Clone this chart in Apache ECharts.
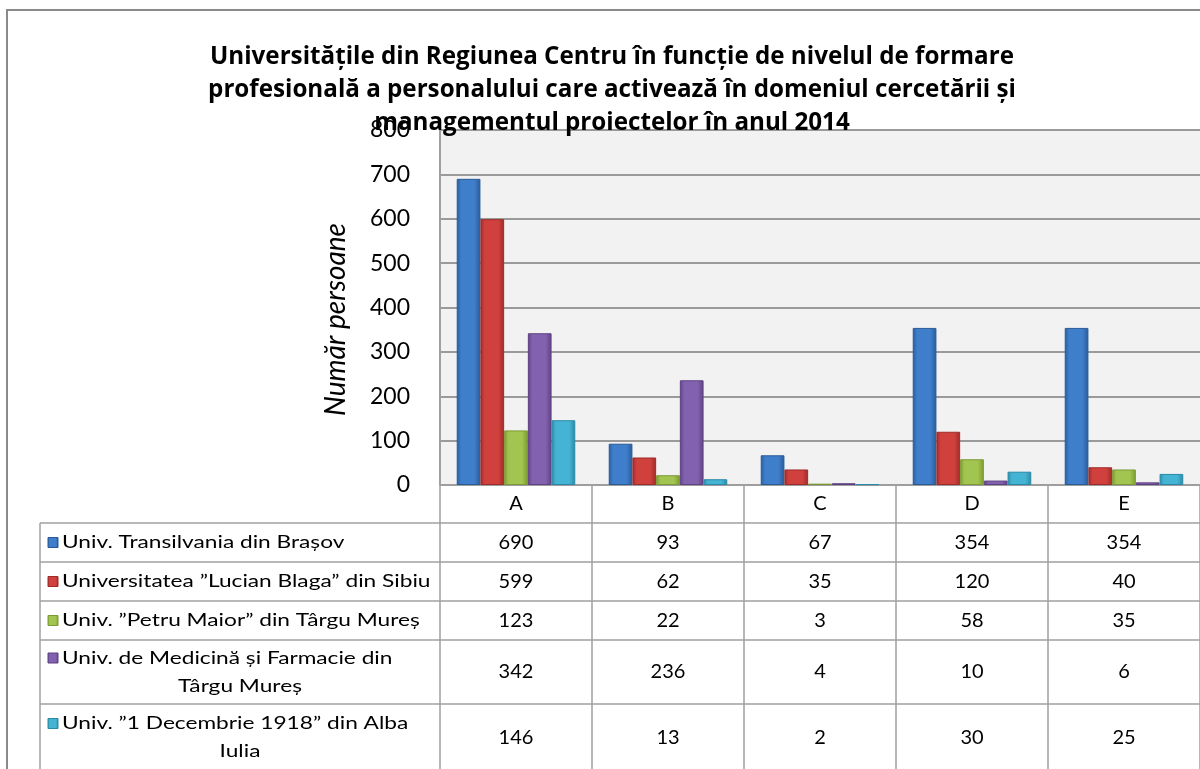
<!DOCTYPE html>
<html>
<head>
<meta charset="utf-8">
<script src="https://cdn.jsdelivr.net/npm/echarts@6/dist/echarts.min.js"></script>
<style>
html,body{margin:0;padding:0;background:#fff;}
#chart{width:1200px;height:769px;}
</style>
</head>
<body>
<div id="chart"></div>
<script>
// ---------- data ----------
const titleText = 'Universitățile din Regiunea Centru în funcție de nivelul de formare\nprofesională a personalului care activează în domeniul cercetării și\nmanagementul proiectelor în anul 2014';
const yAxisName = 'Număr persoane';
const categories = ['A', 'B', 'C', 'D', 'E'];
const seriesNames = [
  'Univ. Transilvania din Brașov',
  'Universitatea ”Lucian Blaga” din Sibiu',
  'Univ. ”Petru Maior” din Târgu Mureș',
  'Univ. de Medicină și Farmacie din\nTârgu Mureș',
  'Univ. ”1 Decembrie 1918” din Alba\nIulia'
];
const brasov = [690, 93, 67, 354, 354];
const sibiu = [599, 62, 35, 120, 40];
const petruMaior = [123, 22, 3, 58, 35];
const umfTgMures = [342, 236, 4, 10, 6];
const albaIulia = [146, 13, 2, 30, 25];
const seriesValues = [brasov, sibiu, petruMaior, umfTgMures, albaIulia];
const yTicks = { min: 0, max: 800, interval: 100 };

// ---------- style / layout ----------
const FONT = 'Lato';
const colors = [
  ['#2A5A96', '#3F7ECB', '#2F66AA'],
  ['#9E2B28', '#D0413D', '#B0322F'],
  ['#7C9A32', '#A2C450', '#8BAE3C'],
  ['#5E4183', '#8262AE', '#6B4C95'],
  ['#2A8AA6', '#45B3D3', '#3199B8']
];
const GRID = { left: 440, top: 130, right: -12, bottom: 769 - 485 };
const ROW_TOPS = [485, 523, 562, 601, 640, 704];
const ROW_END = 771;
const LEFT_COL_X = 40;
const LINE_COLOR = '#A0A0A0';

function grad(c) {
  return new echarts.graphic.LinearGradient(0, 0, 1, 0, [
    { offset: 0, color: c[0] },
    { offset: 0.18, color: c[1] },
    { offset: 0.75, color: c[1] },
    { offset: 1, color: c[0] }
  ]);
}

const chart = echarts.init(document.getElementById('chart'), null, { renderer: 'canvas' });

// x axes: main axis (header row) + one per data-table row
const xAxes = [];
for (let r = 0; r < ROW_TOPS.length; r++) {
  const top = ROW_TOPS[r];
  const bottom = r + 1 < ROW_TOPS.length ? ROW_TOPS[r + 1] : ROW_END;
  const h = bottom - top;
  xAxes.push({
    type: 'category',
    data: categories,
    position: 'bottom',
    offset: top - ROW_TOPS[0],
    gridIndex: 0,
    boundaryGap: true,
    axisLine: { show: true, lineStyle: { color: LINE_COLOR, width: 1.5 } },
    axisTick: { show: true, interval: 0, inside: false, length: h, lineStyle: { color: LINE_COLOR, width: 1.5 } },
    splitLine: { show: false },
    axisLabel: {
      interval: 0,
      margin: h / 2,
      verticalAlign: 'middle',
      color: '#000',
      fontFamily: FONT,
      fontSize: 20,
      formatter: r === 0 ? (v) => v : ((vals) => (v, i) => String(vals[i]))(seriesValues[r - 1])
    }
  });
}

const series = seriesValues.map((vals, i) => ({
  name: seriesNames[i],
  type: 'bar',
  data: vals,
  barGap: '0%',
  barCategoryGap: '22%',
  itemStyle: { color: grad(colors[i]), borderColor: colors[i][0], borderWidth: 1 }
}));

// left column of data table (legend keys + series names)
const graphics = [];
// outer frame
graphics.push({ type: 'rect', shape: { x: 7, y: 10, width: 1400, height: 900 }, style: { fill: null, stroke: '#8A8A8A', lineWidth: 2 }, silent: true });
for (let r = 1; r < ROW_TOPS.length; r++) {
  graphics.push({ type: 'line', shape: { x1: LEFT_COL_X, y1: ROW_TOPS[r], x2: GRID.left, y2: ROW_TOPS[r] }, style: { stroke: LINE_COLOR, lineWidth: 1.5 }, silent: true });
}
graphics.push({ type: 'line', shape: { x1: LEFT_COL_X, y1: ROW_TOPS[1], x2: LEFT_COL_X, y2: ROW_END }, style: { stroke: LINE_COLOR, lineWidth: 1.5 }, silent: true });
for (let s = 0; s < seriesNames.length; s++) {
  const top = ROW_TOPS[s + 1];
  const bottom = s + 2 < ROW_TOPS.length ? ROW_TOPS[s + 2] : ROW_END;
  const lines = seriesNames[s].split('\n');
  const mid = (top + bottom) / 2;
  const lh = 28;
  const y0 = mid - (lines.length - 1) * lh / 2;
  graphics.push({
    type: 'rect', shape: { x: 48, y: y0 - 5, width: 10, height: 10 },
    style: { fill: grad(colors[s]), stroke: colors[s][0], lineWidth: 1 }, silent: true
  });
  lines.forEach((ln, k) => {
    const first = k === 0;
    graphics.push({
      type: 'text',
      x: first ? 62 : (LEFT_COL_X + GRID.left) / 2,
      y: y0 + k * lh,
      scaleX: 1.26,
      style: { text: ln, fill: '#000', font: '18px ' + FONT, textAlign: first ? 'left' : 'center', textVerticalAlign: 'middle' },
      silent: true
    });
  });
}

chart.setOption({
  animation: false,
  backgroundColor: '#ffffff',
  title: {
    text: titleText,
    left: 607,
    top: 36,
    textAlign: 'center',
    textStyle: { fontFamily: 'Open Sans', fontWeight: 'bold', fontSize: 24.2, lineHeight: 33, color: '#000' }
  },
  grid: { left: GRID.left, top: GRID.top, right: GRID.right, bottom: GRID.bottom, containLabel: false, show: true, backgroundColor: '#F2F2F2', borderWidth: 0 },
  xAxis: xAxes,
  yAxis: {
    type: 'value',
    min: yTicks.min, max: yTicks.max, interval: yTicks.interval,
    name: yAxisName,
    nameLocation: 'middle',
    nameRotate: 90,
    nameGap: 90,
    nameTextStyle: { fontFamily: FONT, fontStyle: 'italic', fontSize: 28, color: '#000', padding: [0, 24, 0, 0] },
    axisLine: { show: true, lineStyle: { color: LINE_COLOR, width: 2 } },
    axisTick: { show: false },
    axisLabel: { color: '#000', fontFamily: FONT, fontSize: 23, margin: 30 },
    splitLine: { show: true, lineStyle: { color: '#9A9A9A', width: 2 } }
  },
  series: series,
  graphic: graphics
});
</script>
</body>
</html>
